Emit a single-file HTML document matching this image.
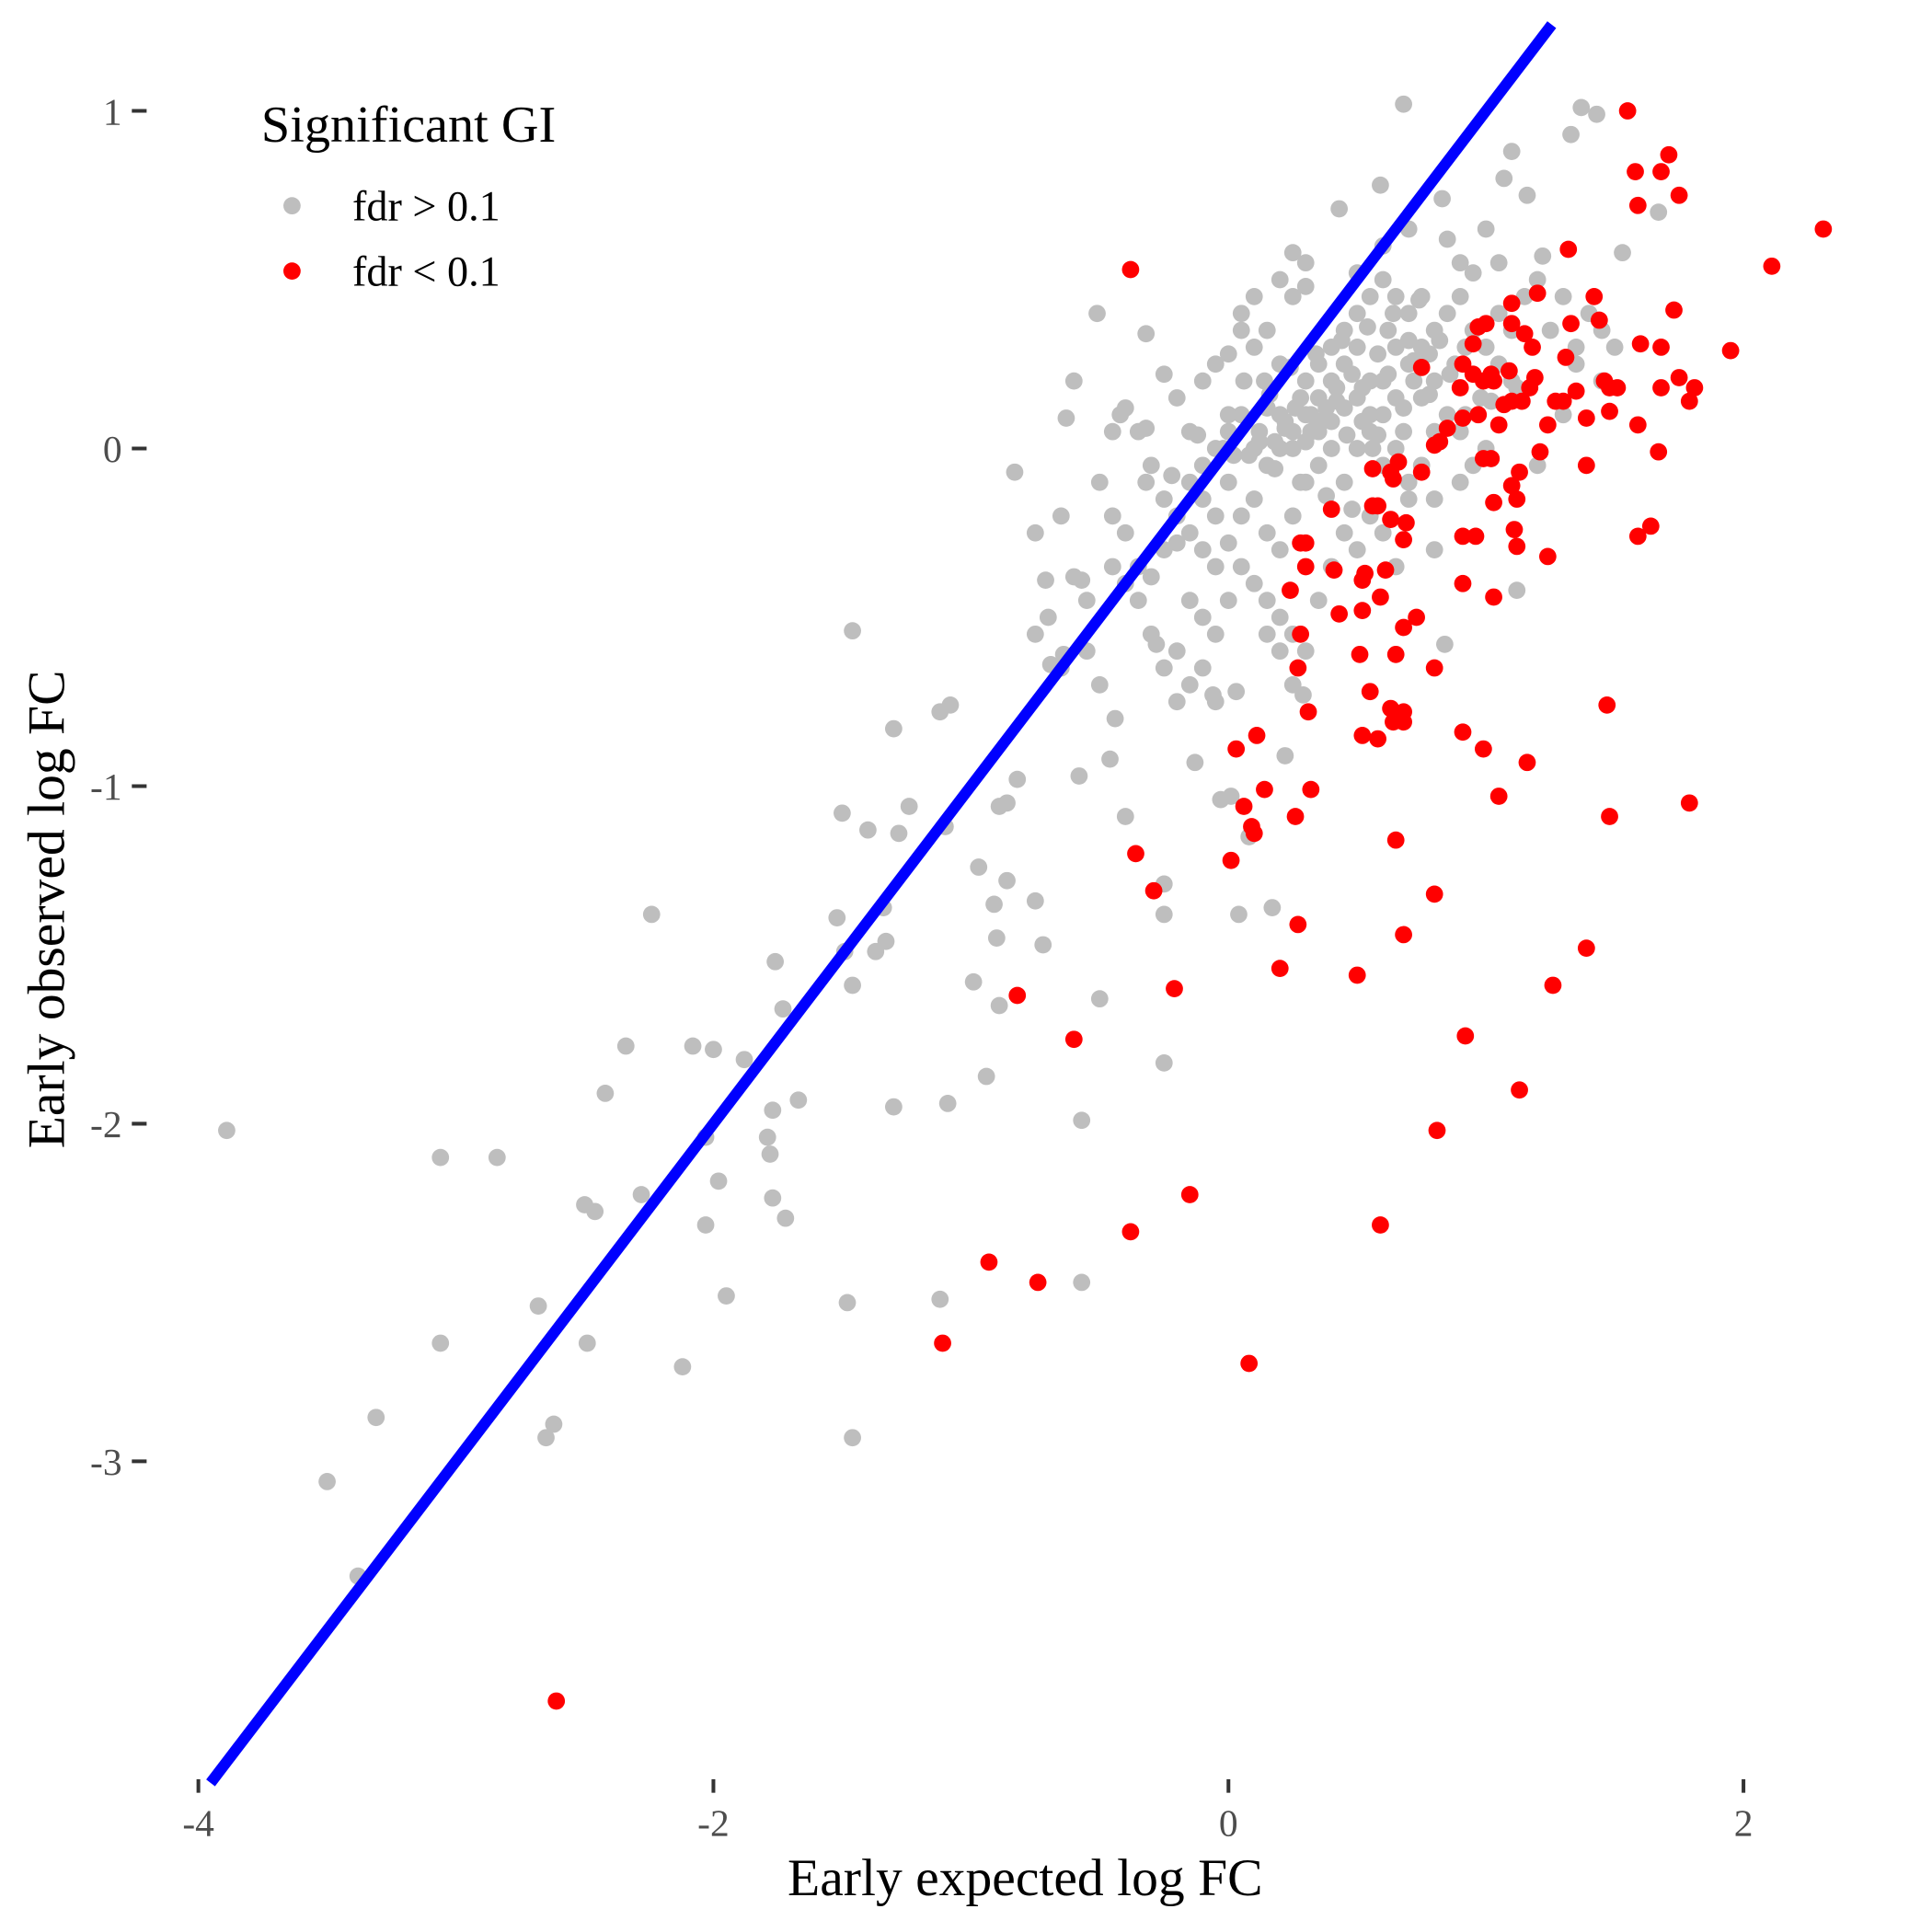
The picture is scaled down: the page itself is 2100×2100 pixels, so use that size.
<!DOCTYPE html>
<html><head><meta charset="utf-8"><style>
html,body{margin:0;padding:0;background:#fff;}
svg{display:block;}
text{font-family:"Liberation Serif","Times New Roman",serif;}
</style></head><body>
<svg id="chart" width="2100" height="2100" viewBox="0 0 1568 1568" xmlns="http://www.w3.org/2000/svg">
<rect width="1568" height="1568" fill="#fff"/>
<g id="ticks"></g>
<g id="pts"></g>
<g id="fit"></g>
<text x="832" y="1538" font-size="43" text-anchor="middle" fill="#000">Early expected log FC</text>
<text x="52" y="738" font-size="43" text-anchor="middle" fill="#000" transform="rotate(-90 52 738)">Early observed log FC</text>
<g>
<text x="212" y="115" font-size="42" fill="#000">Significant GI</text>
<circle cx="237" cy="167" r="7" fill="#bebebe"/>
<text x="286" y="179" font-size="34.5" fill="#000">fdr &gt; 0.1</text>
<circle cx="237" cy="220" r="7" fill="#ff0000"/>
<text x="286" y="232" font-size="34.5" fill="#000">fdr &lt; 0.1</text>
</g>
</svg>
<script>
const xTicks=[-4,-2,0,2];
const yTicks=[1,0,-1,-2,-3];
const grayX=[-3.89,-3.06,-2.84,-3.50,-3.31,-3.38,-3.06,-2.68,-2.65,-2.62,-2.49,-2.50,-2.46,-2.42,-2.34,-2.28,-2.24,-2.12,-2.08,-2.03,-2.00,-1.98,-2.03,-1.95,-1.88,-1.79,-1.78,-1.77,-1.77,-1.76,-1.73,-1.72,-1.67,-1.52,-1.49,-1.46,-1.48,-1.46,-1.46,-1.50,-1.40,-1.37,-1.34,-1.33,-1.30,-1.30,-1.28,-1.24,-1.12,-1.08,-1.12,-1.09,-1.10,-0.97,-0.99,-0.94,-0.91,-0.90,-0.89,-0.89,-0.86,-0.86,-0.82,-0.83,-0.75,-0.72,-0.75,-0.71,-0.69,-0.64,-0.63,-0.58,-0.57,-0.57,-0.57,-0.51,-0.50,-0.46,-0.44,-0.40,-0.32,-0.28,-0.25,-0.25,-0.25,0.68,1.37,1.43,1.33,1.10,1.07,1.16,0.83,0.59,0.43,1.67,1.53,1.22,0.25,1.12,0.84,0.01,0.08,0.04,0.17,-0.03,0.03,-0.06,-0.13,0.22,0.29,
-0.4,-0.42,-0.35,-0.3,-0.32,-0.25,-0.2,-0.15,-0.1,-0.05,0.0,0.05,0.1,0.12,0.15,0.2,0.25,0.3,0.35,0.4,0.45,0.5,0.55,0.6,0.65,0.7,0.75,0.8,0.85,0.9,0.3,0.35,0.4,0.45,0.5,0.55,0.6,0.65,0.7,0.75,0.8,0.85,0.9,0.95,1.0,1.05,1.1,1.15,1.2,1.25,1.3,1.35,1.4,0.1,0.05,0.0,-0.05,-0.1,0.15,0.2,0.25,0.2,0.3,-0.25,-0.2,-0.45,-0.5,-0.45,-0.4,-0.35,-0.3,-0.25,-0.2,-0.15,-0.1,-0.05,0.0,0.05,0.1,0.15,0.2,0.25,0.3,0.35,0.4,0.45,0.5,0.55,0.6,0.65,0.7,0.75,0.8,0.9,0.95,1.0,0.2,0.25,0.3,0.35,0.4,0.45,0.5,0.55,0.6,0.65,0.7,0.75,0.8,0.15,0.18,0.22,0.28,0.32,0.38,0.42,0.48,0.52,0.58,0.62,0.68,0.72,0.78,0.82,0.88,0.92,0.98,1.05,1.1,0.0,-0.05,-0.1,0.05,0.1,0.15,0.2,0.25,0.3,0.35,0.4,0.45,0.5,0.55,0.6,0.65,0.7,0.8,-0.15,-0.1,-0.05,-0.2,-0.25,-0.3,-0.35,-0.4,-0.1,-0.15,-0.2,-0.05,0.0,-0.55,-0.6,-0.7,-0.75,-0.65,-0.55,-0.5,0.2,0.25,0.15,-0.6,-0.65,-0.45,0.0,-0.15,1.2,1.3,1.45,1.5,1.45,1.35,0.05,0.1,0.3,0.5,0.6,0.7,0.85,0.9,0.95,1.0,1.05,
0.12,0.22,0.32,0.42,0.52,0.62,0.72,0.08,0.18,0.28,0.38,0.48,0.58,0.68,0.78,0.14,0.24,0.34,0.44,0.54,0.64,0.74,0.06,0.16,0.26,0.36,0.46,0.56,0.66,-0.02,-0.12,-0.22,-0.32,0.02,0.92,1.02,1.12,0.86];
const grayY=[-2.02,-2.10,-2.10,-3.06,-2.87,-3.34,-2.65,-2.54,-2.93,-2.89,-2.65,-2.24,-2.26,-1.91,-1.77,-2.21,-1.38,-2.72,-1.77,-2.04,-1.78,-2.17,-2.30,-2.51,-1.81,-2.04,-2.09,-2.22,-1.96,-1.52,-1.66,-2.28,-1.93,-1.39,-1.49,-0.54,-2.53,-2.93,-1.59,-1.08,-1.13,-1.49,-1.36,-1.46,-0.83,-1.95,-1.14,-1.06,-0.78,-0.76,-2.52,-1.94,-1.12,-1.24,-1.58,-1.86,-1.35,-1.45,-1.65,-1.06,-1.28,-1.05,-0.98,-0.07,-1.34,-1.47,-0.25,-0.39,-0.64,-0.61,0.09,-0.97,-1.99,-2.47,-0.39,0.40,-1.63,-0.92,-0.80,-1.09,0.34,-0.58,-1.38,-1.82,-1.29,1.02,1.01,0.99,0.93,0.88,0.80,0.75,0.74,0.78,0.71,0.70,0.58,0.57,0.58,-0.42,-0.58,-1.03,-1.15,-1.38,-1.36,-1.04,-0.72,-0.73,-0.93,-0.91,-0.73,
0.12,0.1,0.05,-0.05,-0.1,-0.15,-0.2,-0.1,-0.05,0.0,0.05,0.1,0.0,0.05,-0.05,0.0,0.05,0.1,0.15,0.2,0.25,0.3,0.2,0.1,0.15,0.25,0.3,0.2,0.1,0.05,0.2,0.25,0.3,0.35,0.4,0.45,0.5,0.45,0.4,0.45,0.35,0.4,0.45,0.35,0.3,0.4,0.35,0.45,0.5,0.35,0.45,0.3,0.4,0.3,0.35,0.28,0.25,0.2,0.35,0.25,0.45,0.5,0.48,0.22,0.15,0.05,-0.1,-0.2,-0.25,-0.35,-0.38,-0.3,-0.28,-0.25,-0.3,-0.35,-0.28,-0.2,-0.15,-0.25,-0.3,-0.2,-0.1,-0.05,0.0,-0.1,0.0,0.05,-0.05,0.0,-0.1,-0.05,-0.15,-0.1,-0.05,0.0,0.1,0.0,0.02,0.05,0.08,0.12,0.15,0.1,0.2,0.3,0.32,0.15,0.05,0.12,0.02,0.08,0.15,0.05,0.12,0.18,0.22,0.08,0.28,0.35,0.05,0.2,0.28,0.32,0.25,0.3,0.15,0.25,0.2,-0.1,-0.2,-0.15,-0.35,-0.4,-0.45,-0.5,-0.55,-0.6,-0.45,-0.35,-0.25,-0.3,-0.2,-0.25,-0.35,-0.15,-0.3,-0.45,-0.5,-0.55,-0.6,-0.65,-0.55,-0.45,-0.4,-0.65,-0.7,-0.75,-0.75,-0.45,-0.45,-0.38,-0.5,-0.55,-0.65,-0.6,-0.7,-0.6,-0.7,-0.55,0.2,-0.2,-0.35,0.1,0.05,-0.05,0.1,0.2,0.3,0.35,0.25,0.4,0.45,0.55,0.52,0.6,0.65,0.62,0.55,0.52,0.65,0.55,
0.02,0.06,0.1,0.14,0.18,0.22,0.26,-0.02,-0.06,-0.1,-0.14,-0.18,0.04,0.12,0.16,0.2,0.24,0.28,0.32,0.36,0.4,0.44,0.2,0.16,0.12,0.08,0.04,0.0,-0.04,0.0,0.04,-0.08,0.06,-0.02,0.1,0.14,0.18,0.22];
const redX=[-0.38,1.55,1.58,1.71,1.68,1.75,1.59,2.31,2.11,1.95,1.32,1.73,1.60,1.68,1.75,1.81,1.68,1.79,1.59,1.67,1.64,1.59,1.47,1.48,1.79,1.39,1.26,1.13,0.92,0.81,0.59,0.08,-0.15,-0.38,-0.74,-0.93,-1.11,-2.61,-0.82,-0.60,-0.21,0.20,0.50,0.68,0.27,0.80,0.65,-0.29,-0.36,0.01,0.10,0.09,0.06,0.14,0.26,0.32,0.03,0.11,0.31,0.52,0.58,0.63,0.68,0.68,0.64,0.55,0.65,0.51,0.80,0.91,0.99,1.05,1.16,0.27,0.28,0.43,0.52,0.68,0.73,0.59,0.52,0.53,0.61,0.24,0.30,0.41,0.28,0.30,0.56,0.58,0.63,0.69,0.68,0.40,0.91,1.03,0.91,0.96,1.11,1.12,1.24,1.03,1.12,1.10,1.13,1.02,0.99,0.56,0.63,0.64,0.75,0.66,0.82,0.80,1.39,1.21,1.24,1.05,0.85,0.91,0.97,0.90,0.95,0.99,1.03,1.02,1.09,1.07,1.10,1.14,1.17,1.19,1.18,1.15,1.10,1.10,1.20,1.33,1.31,1.42,1.44,1.46,1.51,1.48,1.39,1.48,1.30,1.35,1.27,0.97,0.95,1.00,0.91,0.75];
const redY=[0.53,1.00,0.82,0.87,0.82,0.75,0.72,0.65,0.54,0.29,0.59,0.41,0.31,0.30,0.21,0.18,0.18,0.14,0.07,-0.01,-0.23,-0.26,-0.76,-1.09,-1.05,-1.48,-1.59,-1.90,-1.74,-2.02,-2.30,-2.71,-2.21,-2.32,-2.47,-2.41,-2.65,-3.71,-1.62,-1.75,-1.60,-1.54,-1.56,-1.44,-1.41,-1.32,-1.16,-1.31,-1.20,-1.22,-1.14,-1.12,-1.06,-1.01,-1.09,-1.01,-0.89,-0.85,-0.78,-0.85,-0.86,-0.77,-0.78,-0.81,-0.81,-0.72,-0.61,-0.61,-0.65,-0.84,-0.89,-1.03,-0.93,-0.65,-0.55,-0.49,-0.48,-0.53,-0.50,-0.44,-0.39,-0.37,-0.36,-0.42,-0.35,-0.36,-0.28,-0.28,-0.17,-0.17,-0.21,-0.22,-0.27,-0.18,-0.40,-0.44,-0.26,-0.26,-0.24,-0.29,-0.32,-0.16,-0.15,-0.11,-0.07,-0.03,-0.03,-0.06,-0.07,-0.09,-0.07,-0.04,0.02,0.01,-0.05,-0.01,0.07,0.07,0.06,0.09,0.10,0.18,0.22,0.20,0.20,0.22,0.23,0.13,0.14,0.14,0.18,0.21,0.30,0.34,0.37,0.43,0.46,0.37,0.27,0.45,0.38,0.20,0.18,0.18,0.09,0.11,0.14,0.17,0.14,0.36,0.31,0.37,0.25,0.24];

const NS='http://www.w3.org/2000/svg';
const X0=997,XS=209,Y0=364,YS=274;
function sx(v){return X0+v*XS;}
function sy(v){return Y0-v*YS;}
const T=document.getElementById('ticks'),P=document.getElementById('pts'),F=document.getElementById('fit');
xTicks.forEach(t=>{
  const l=document.createElementNS(NS,'line');
  l.setAttribute('x1',sx(t));l.setAttribute('x2',sx(t));l.setAttribute('y1',1444);l.setAttribute('y2',1455);
  l.setAttribute('stroke','#333');l.setAttribute('stroke-width','3');
  
  
  T.appendChild(l);
  const s=document.createElementNS(NS,'text');
  s.setAttribute('x',sx(t));s.setAttribute('y',1490);s.setAttribute('text-anchor','middle');
  s.setAttribute('font-size','31');s.setAttribute('fill','#4d4d4d');
  s.textContent=t;
  
  
  T.appendChild(s);
});
yTicks.forEach(t=>{
  const l=document.createElementNS(NS,'line');
  l.setAttribute('x1',107);l.setAttribute('x2',119);l.setAttribute('y1',sy(t));l.setAttribute('y2',sy(t));
  l.setAttribute('stroke','#333');l.setAttribute('stroke-width','3');
  
  
  T.appendChild(l);
  const s=document.createElementNS(NS,'text');
  s.setAttribute('x',99);s.setAttribute('y',sy(t)+11);s.setAttribute('text-anchor','end');
  s.setAttribute('font-size','31');s.setAttribute('fill','#4d4d4d');
  s.textContent=t;
  
  
  T.appendChild(s);
});
function dots(xs,ys,col,name){
  for(let i=0;i<xs.length;i++){
    const c=document.createElementNS(NS,'circle');
    c.setAttribute('cx',sx(xs[i]));c.setAttribute('cy',sy(ys[i]));c.setAttribute('r',7);c.setAttribute('fill',col);
    
    
    P.appendChild(c);
  }
}
dots(grayX,grayY,'#bebebe','point-fdr-gt-0.1');
dots(redX,redY,'#ff0000','point-fdr-lt-0.1');
const lo=(Y0-1447)/YS, hi=(Y0-20)/YS;
const ln=document.createElementNS(NS,'line');
ln.setAttribute('x1',sx(lo));ln.setAttribute('y1',sy(lo));ln.setAttribute('x2',sx(hi));ln.setAttribute('y2',sy(hi));
ln.setAttribute('stroke','#0000ff');ln.setAttribute('stroke-width','9');


F.appendChild(ln);
</script>
</body></html>
